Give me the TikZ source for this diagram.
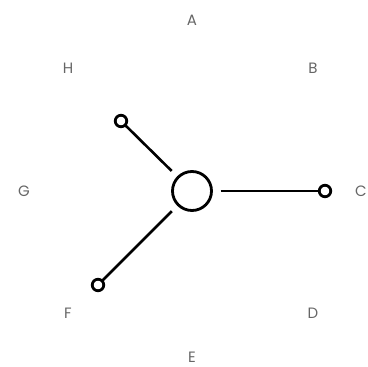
\documentclass[tikz,border=0pt]{standalone}
\usepackage{fontspec}
\setmainfont{Poppins}
\begin{document}
\begin{tikzpicture}[x=1pt,y=-1pt,
  hub/.style={circle,draw,line width=2.8pt,minimum size=39pt,inner sep=0pt,outer sep=0pt},
  tip/.style={circle,draw,line width=2.8pt,minimum size=11.5pt,inner sep=0pt,outer sep=0pt,fill=white},
  spoke/.style={line width=2.6pt,shorten <=9pt},
  lbl/.style={text=black!60,font=\fontsize{15}{17}\selectfont,inner sep=0pt}]
\useasboundingbox (0,0) rectangle (367,367);
\node[hub] (hub) at (192,191) {};
\node[tip] (th) at (121,121) {};
\node[tip] (tc) at (325,191) {};
\node[tip] (tf) at (98,285) {};
\draw[spoke] (hub) -- (th);
\draw[spoke] (hub) -- (tc);
\draw[spoke] (hub) -- (tf);
\node[lbl] (A) at (192,20) {A};
\node[lbl] (B) at (313,68) {B};
\node[lbl] (C) at (361,191) {C};
\node[lbl] (D) at (313,313) {D};
\node[lbl] (E) at (192,357) {E};
\node[lbl] (F) at (68,313) {F};
\node[lbl] (G) at (24,191) {G};
\node[lbl] (H) at (68,68) {H};
\end{tikzpicture}
\end{document}
